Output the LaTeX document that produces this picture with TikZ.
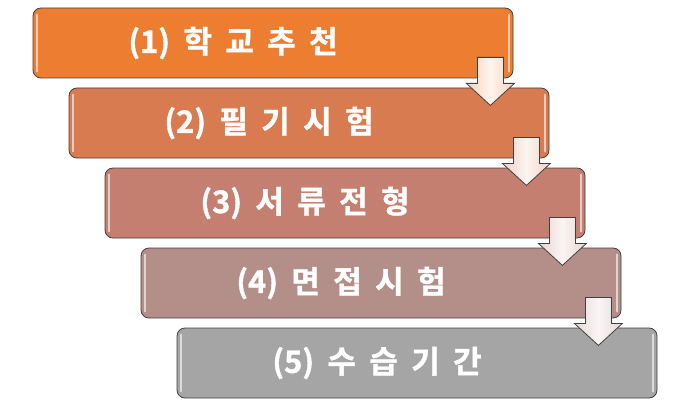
\documentclass[tikz,border=0pt]{standalone}
\usepackage{fontspec}
\usepackage{xcolor}
\usetikzlibrary{calc}
\newfontfamily\krfont{Noto Sans CJK KR Bold}[WordSpace=1.9, FakeBold=1.2]
\definecolor{stepA}{HTML}{ED7D31}
\definecolor{stepB}{HTML}{D87B50}
\definecolor{stepC}{HTML}{C47F71}
\definecolor{stepD}{HTML}{B48F89}
\definecolor{stepE}{HTML}{A5A5A5}
\definecolor{edgegray}{HTML}{404040}
\tikzset{
  stage/.style={
    draw=edgegray, line width=0.8pt, rounded corners=8pt,
    minimum width=480pt, minimum height=70pt, inner sep=0pt
  },
  stagetext/.style={text=white, font=\krfont\fontsize{31}{34}\selectfont},
  shine/.style={draw=white, opacity=0.6, line width=2pt, line cap=round},
  blockarrow/.style={draw=edgegray, line width=0.8pt, line join=miter},
}

\begin{document}
\begin{tikzpicture}[x=1pt,y=-1pt]
\useasboundingbox (0,0) rectangle (674,409);

% stages
\foreach \i/\col/\txt in {1/stepA/{학 교 추 천}, 2/stepB/{필 기 시 험},
    3/stepC/{서 류 전 형}, 4/stepD/{면 접 시 험}, 5/stepE/{수 습 기 간}} {
  \node[stage, fill=\col] (b\i) at ({273+36*(\i-1)},{43+80*(\i-1)}) {};
  \node[stagetext] (t\i) at ([xshift=-40pt]b\i.center) {(\i) \txt};
  \draw[shine] ([xshift=4pt,yshift=-7pt]b\i.north west) -- ([xshift=4pt,yshift=7pt]b\i.south west);
  \draw[shine] ([xshift=-4pt,yshift=-7pt]b\i.north east) -- ([xshift=-4pt,yshift=7pt]b\i.south east);
}

% arrows between stages
\foreach \i/\col in {1/stepA, 2/stepB, 3/stepC, 4/stepD} {
  \draw[blockarrow, left color=\col!35!white, right color=\col!35!white, middle color=\col!8!white]
    ($(b\i.south east)+(-36,-21)$) -- ++(26,0) -- ++(0,26) -- ++(11,0)
    -- ++(-24,22) -- ++(-24,-22) -- ++(11,0) -- cycle;
}

\end{tikzpicture}
\end{document}
